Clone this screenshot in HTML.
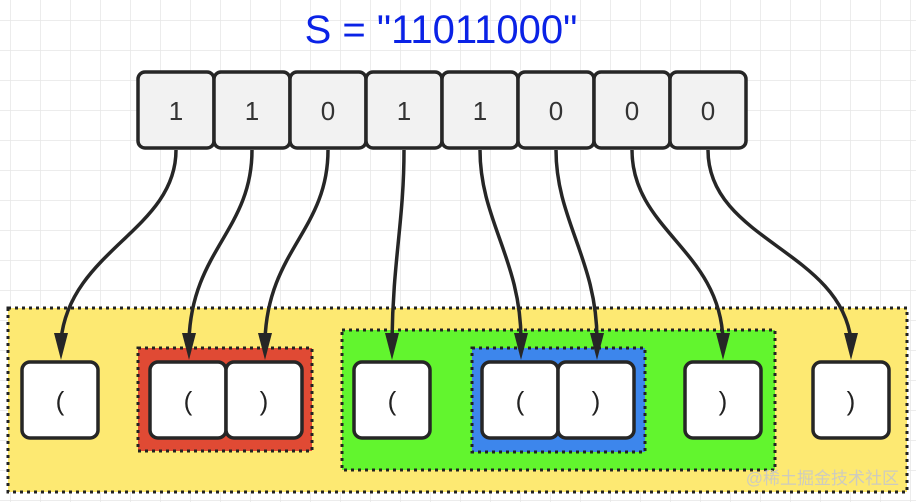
<!DOCTYPE html>
<html><head><meta charset="utf-8"><style>
html,body{margin:0;padding:0;background:#fff}
svg{display:block}
text{font-family:"Liberation Sans","Noto Sans CJK SC",sans-serif}
</style></head><body>
<svg width="916" height="502" viewBox="0 0 916 502" xmlns="http://www.w3.org/2000/svg">
<defs>
<pattern id="g" width="30" height="30" patternUnits="userSpaceOnUse" x="10" y="20">
<path d="M0 0H30M0 0V30" stroke="#e6e6e6" stroke-width="1.5" fill="none"/>
</pattern>
</defs>
<rect width="916" height="502" fill="#fff"/>
<rect width="916" height="502" fill="url(#g)"/>
<text x="441" y="43" text-anchor="middle" font-size="40" fill="#0a22e6">S = "11011000"</text>

<rect x="8" y="308" width="899" height="184" fill="#fde972" stroke="#222" stroke-width="3" stroke-dasharray="3 4"/>
<rect x="138" y="348" width="174" height="103" fill="#e04a34" stroke="#222" stroke-width="3" stroke-dasharray="3 4"/>
<rect x="342" y="330" width="433" height="140" fill="#62f52e" stroke="#222" stroke-width="3" stroke-dasharray="3 4"/>
<rect x="472" y="348" width="173" height="104" fill="#3d86ec" stroke="#222" stroke-width="3" stroke-dasharray="3 4"/>

<g fill="#fff" stroke="#262626" stroke-width="3.5">
<rect x="22" y="362" width="76" height="76" rx="8"/>
<rect x="150" y="362" width="76" height="76" rx="8"/>
<rect x="226" y="362" width="76" height="76" rx="8"/>
<rect x="354" y="362" width="76" height="76" rx="8"/>
<rect x="482" y="362" width="76" height="76" rx="8"/>
<rect x="558" y="362" width="76" height="76" rx="8"/>
<rect x="685" y="362" width="76" height="76" rx="8"/>
<rect x="813" y="362" width="76" height="76" rx="8"/>
</g>
<g font-size="26" fill="#222" text-anchor="middle">
<text x="60" y="410">(</text><text x="188" y="410">(</text><text x="264" y="410">)</text>
<text x="392" y="410">(</text><text x="520" y="410">(</text><text x="596" y="410">)</text>
<text x="723" y="410">)</text><text x="851" y="410">)</text>
</g>

<g fill="#f2f2f2" stroke="#262626" stroke-width="3.5">
<rect x="138" y="72" width="76" height="76" rx="7"/>
<rect x="214" y="72" width="76" height="76" rx="7"/>
<rect x="290" y="72" width="76" height="76" rx="7"/>
<rect x="366" y="72" width="76" height="76" rx="7"/>
<rect x="442" y="72" width="76" height="76" rx="7"/>
<rect x="518" y="72" width="76" height="76" rx="7"/>
<rect x="594" y="72" width="76" height="76" rx="7"/>
<rect x="670" y="72" width="76" height="76" rx="7"/>
</g>
<g font-size="26" fill="#333" text-anchor="middle">
<text x="176" y="120">1</text><text x="252" y="120">1</text><text x="328" y="120">0</text><text x="404" y="120">1</text>
<text x="480" y="120">1</text><text x="556" y="120">0</text><text x="632" y="120">0</text><text x="708" y="120">0</text>
</g>

<g fill="none" stroke="#262626" stroke-width="3.5">
<path d="M176 150 C176 230 70 250 61 340"/>
<path d="M252 150 C252 230 192 250 189 340"/>
<path d="M328 150 C328 230 268 250 265 340"/>
<path d="M404 150 C404 220 393 260 392 340"/>
<path d="M480 150 C480 220 521 260 521 340"/>
<path d="M556 150 C556 220 597 260 597 340"/>
<path d="M632 150 C632 230 720 250 723 340"/>
<path d="M708 150 C708 240 840 250 851 340"/>
</g>
<g fill="#262626">
<polygon points="54,333 68,333 61,360"/>
<polygon points="182,333 196,333 189,360"/>
<polygon points="258,333 272,333 265,360"/>
<polygon points="385,333 399,333 392,360"/>
<polygon points="514,333 528,333 521,360"/>
<polygon points="590,333 604,333 597,360"/>
<polygon points="716,333 730,333 723,360"/>
<polygon points="844,333 858,333 851,360"/>
</g>
<text x="899" y="484" text-anchor="end" font-size="17" fill="#c8c8c8" opacity="0.9">@稀土掘金技术社区</text>
</svg>
</body></html>
